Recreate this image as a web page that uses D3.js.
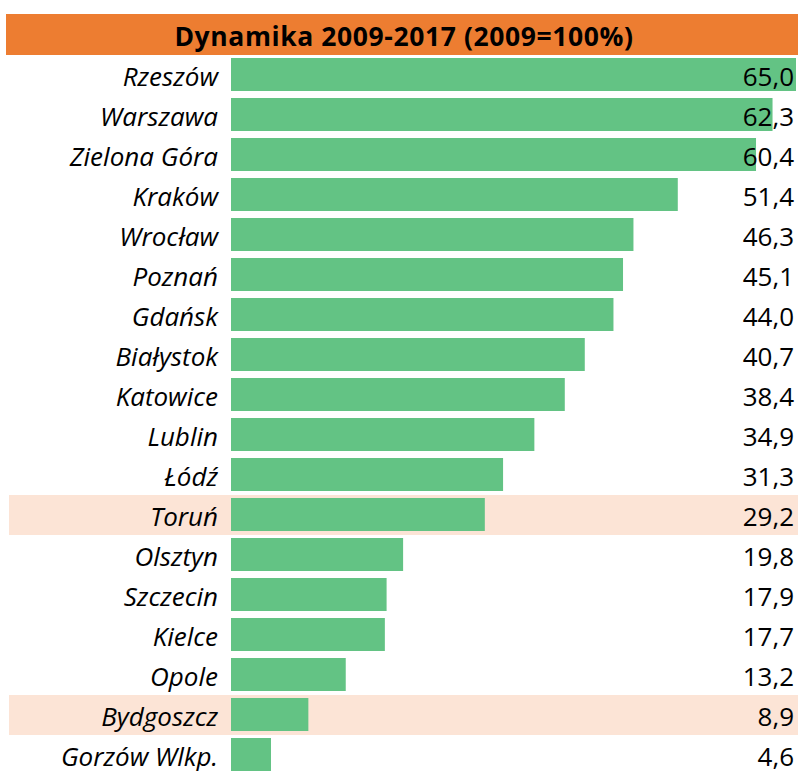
<!DOCTYPE html>
<html>
<head>
<meta charset="utf-8">
<script src="https://cdn.jsdelivr.net/npm/d3@7"></script>
<style>
  body { margin: 0; background: #fff; }
  text { font-family: "Open Sans", Lato, sans-serif; fill: #000; }
</style>
</head>
<body>
<svg id="chart"></svg>
<script>
// Data
const cities = ["Rzeszów", "Warszawa", "Zielona Góra", "Kraków", "Wrocław", "Poznań", "Gdańsk",
  "Białystok", "Katowice", "Lublin", "Łódź", "Toruń", "Olsztyn", "Szczecin", "Kielce", "Opole",
  "Bydgoszcz", "Gorzów Wlkp."];
const values = [65.0, 62.3, 60.4, 51.4, 46.3, 45.1, 44.0, 40.7, 38.4, 34.9, 31.3, 29.2, 19.8, 17.9, 17.7, 13.2, 8.9, 4.6];
const highlighted = ["Toruń", "Bydgoszcz"];
const title = "Dynamika 2009-2017 (2009=100%)";

const data = cities.map((c, i) => ({ city: c, value: values[i] }));

const W = 798, H = 771;
const svg = d3.select('#chart')
    .attr('width', W)
    .attr('height', H);

// Title bar
svg.append('rect')
    .attr('x', 6).attr('y', 14)
    .attr('width', W - 6).attr('height', 41)
    .attr('fill', '#ED7D31');

svg.append('text')
    .attr('x', 404)
    .attr('y', 46)
    .attr('text-anchor', 'middle')
    .style('font-weight', 'bold')
    .style('font-size', '26.5px')
    .style('letter-spacing', '0.6px')
    .text(title);

// Scales
const y = d3.scaleBand()
    .domain(cities)
    .range([55, 55 + cities.length * 40]);

const x = d3.scaleLinear()
    .domain([0, 65])
    .range([231, 796]);

// Highlighted rows
svg.selectAll('.band')
    .data(data.filter(d => highlighted.includes(d.city)))
    .enter()
    .append('rect')
    .attr('class', 'band')
    .attr('x', 9)
    .attr('y', d => y(d.city))
    .attr('width', W - 9)
    .attr('height', y.bandwidth())
    .attr('fill', '#FCE4D6');

// Bars
svg.selectAll('.bar')
    .data(data)
    .enter()
    .append('rect')
    .attr('class', 'bar')
    .attr('x', x(0))
    .attr('y', d => y(d.city) + 3)
    .attr('width', d => x(d.value) - x(0))
    .attr('height', y.bandwidth() - 7)
    .attr('fill', '#63C384');

// City names
svg.selectAll('.city')
    .data(data)
    .enter()
    .append('text')
    .attr('class', 'city')
    .attr('x', 218)
    .attr('y', d => y(d.city) + 31)
    .attr('text-anchor', 'end')
    .style('font-style', 'italic')
    .style('font-size', '26px')
    .text(d => d.city);

// Values
const fmt = v => v.toFixed(1).replace('.', ',');
svg.selectAll('.val')
    .data(data)
    .enter()
    .append('text')
    .attr('class', 'val')
    .attr('x', 794)
    .attr('y', d => y(d.city) + 31)
    .attr('text-anchor', 'end')
    .style('font-size', '26px')
    .text(d => fmt(d.value));
</script>
</body>
</html>
